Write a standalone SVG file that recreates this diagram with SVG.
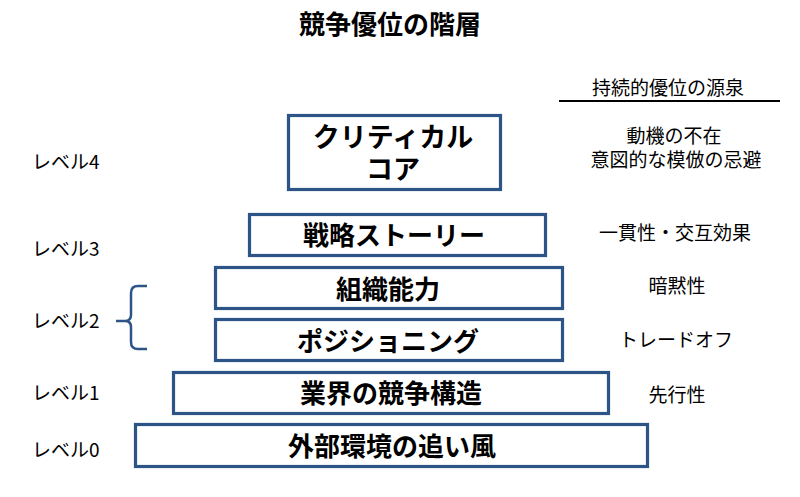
<svg xmlns="http://www.w3.org/2000/svg" width="800" height="497" viewBox="0 0 800 497">
<style>
.box{fill:#fff;stroke:#2c5487;stroke-width:3.2}
.bt{font-family:"Noto Sans CJK JP","Noto Sans",sans-serif;font-weight:bold;font-size:26px;fill:#000;text-anchor:middle}
.lv{font-family:"Noto Sans CJK JP","Noto Sans",sans-serif;font-size:19px;fill:#000}
.rt{font-family:"Noto Sans CJK JP","Noto Sans",sans-serif;font-size:19px;fill:#000;text-anchor:middle}
.br{fill:none;stroke:#2c5487;stroke-width:2.5}
</style>
<rect width="800" height="497" fill="#fff"/>
<text x="390" y="34" class="bt" style="font-size:26px">競争優位の階層</text>
<g id="header">
<text x="668" y="95" class="rt">持続的優位の源泉</text>
<line x1="559" y1="101" x2="780" y2="101" stroke="#000" stroke-width="2"/>
</g>
<g id="level4">
<rect class="box" x="288.5" y="115.5" width="212" height="74"/>
<text class="bt" style="font-size:27px"><tspan x="393" y="147">クリティカル</tspan><tspan x="393" y="179">コア</tspan></text>
<text x="32" y="169" class="lv">レベル4</text>
<text class="rt"><tspan x="674" y="143">動機の不在</tspan><tspan x="676" y="167">意図的な模倣の忌避</tspan></text>
</g>
<g id="level3">
<rect class="box" x="249.5" y="214.5" width="296" height="41"/>
<text x="394" y="245" class="bt">戦略ストーリー</text>
<text x="32" y="256" class="lv">レベル3</text>
<text x="675" y="240" class="rt">一貫性・交互効果</text>
</g>
<g id="level2a">
<rect class="box" x="215.5" y="267.5" width="347" height="41"/>
<text x="388" y="299" class="bt">組織能力</text>
<text x="677" y="293" class="rt">暗黙性</text>
</g>
<g id="level2b">
<rect class="box" x="215.5" y="319.5" width="347" height="41"/>
<text x="388" y="351" class="bt">ポジショニング</text>
<text x="676" y="347" class="rt">トレードオフ</text>
</g>
<g id="level2label">
<text x="32" y="328" class="lv">レベル2</text>
</g>
<g id="level1">
<rect class="box" x="173.5" y="372.5" width="435" height="41"/>
<text x="391" y="403" class="bt">業界の競争構造</text>
<text x="32" y="400" class="lv">レベル1</text>
<text x="677" y="402" class="rt">先行性</text>
</g>
<g id="level0">
<rect class="box" x="135.5" y="424.5" width="512" height="42"/>
<text x="392" y="456" class="bt">外部環境の追い風</text>
<text x="32" y="457" class="lv">レベル0</text>
</g>
<g id="connectors">
<path class="br" d="M147,286 L138,286 Q131,286 131,293 L131,315 Q131,321 125,321 L116,321 M125,321 Q131,321 131,327 L131,342 Q131,349 138,349 L147,349"/>
</g>
</svg>
